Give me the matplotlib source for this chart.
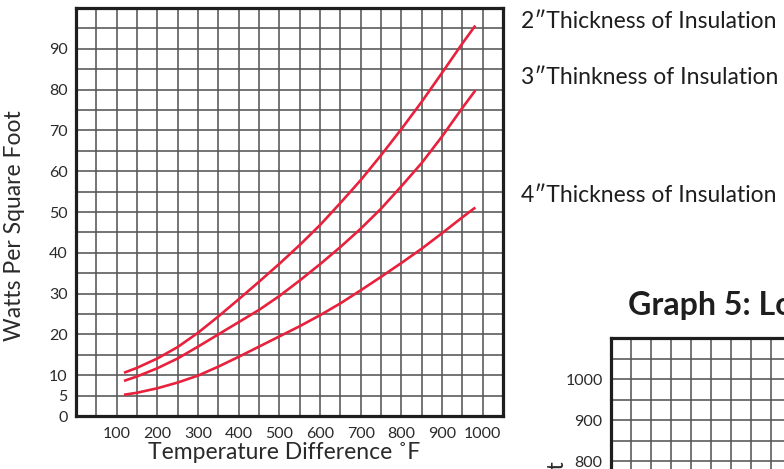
import matplotlib
matplotlib.use("Agg")
import matplotlib.pyplot as plt
import numpy as np

FONT = ['Lato', 'DejaVu Sans']
plt.rcParams['font.family'] = FONT

# ---- data ----
temp = [118, 150, 200, 250, 300, 350, 400, 450, 500, 550,
        600, 650, 700, 750, 800, 850, 900, 950, 982]
watts_2in = [10.6, 11.8, 14.1, 16.9, 20.4, 24.4, 28.6, 32.9, 37.3, 41.9,
             46.8, 52.2, 57.8, 63.9, 70.3, 77.0, 84.1, 91.3, 95.7]
watts_3in = [8.6, 9.7, 11.7, 14.1, 17.0, 20.0, 23.0, 26.0, 29.4, 33.2,
             37.2, 41.4, 45.9, 50.8, 56.3, 62.0, 68.5, 75.5, 79.8]
watts_4in = [5.2, 5.7, 6.8, 8.2, 9.9, 12.1, 14.5, 17.0, 19.5, 22.0,
             24.7, 27.6, 30.8, 34.1, 37.5, 41.0, 44.8, 48.7, 51.1]
series_labels = ['2\u2033Thickness of Insulation',
                 '3\u2033Thinkness of Insulation',
                 '4\u2033Thickness of Insulation']
x_ticks = [100, 200, 300, 400, 500, 600, 700, 800, 900, 1000]
y_ticks = [0, 5, 10, 20, 30, 40, 50, 60, 70, 80, 90]
y_ticks_g5 = [800, 900, 1000]

W, H = 784, 469
fig = plt.figure(figsize=(W / 100, H / 100), dpi=100)

GRID_C = '#555555'
RED = '#e8213d'
SPINE_C = '#1e1e1e'
TXT_C = '#2a2a2a'


def style_axes(ax):
    ax.set_facecolor('white')
    for s in ax.spines.values():
        s.set_linewidth(2.3)
        s.set_color(SPINE_C)
    ax.tick_params(which='both', length=0, labelsize=11.5, colors=TXT_C)
    ax.grid(True, which='both', color=GRID_C, linewidth=1.15)
    ax.set_axisbelow(True)


# ---- main chart ----
ax = fig.add_axes([76 / W, 1 - 416 / H, 427 / W, 408 / H])
ax.set_xlim(0, 1050)
ax.set_ylim(0, 100)
ax.set_xticks(np.arange(50, 1050, 50), minor=True)
ax.set_yticks(np.arange(5, 100, 5), minor=True)
ax.set_xticks(x_ticks)
ax.set_yticks(y_ticks)
ax.set_xticklabels([str(v) for v in x_ticks])
ax.set_yticklabels([str(v) for v in y_ticks])
style_axes(ax)
ax.tick_params(axis='x', pad=8)
ax.tick_params(axis='y', pad=6)

for ys in (watts_2in, watts_3in, watts_4in):
    ax.plot(temp, ys, color=RED, linewidth=1.9, solid_capstyle='butt', zorder=3)

ax.set_xlabel('Temperature Difference \u02daF', fontsize=16.5, color=TXT_C)
ax.xaxis.set_label_coords((284 - 76) / 427, -(452 - 416) / 408)
ax.xaxis.label.set_va('center')
fig.text(15 / W, 1 - 226 / H, 'Watts Per Square Foot', rotation=90,
         fontsize=16.5, color=TXT_C, ha='center', va='center', family=FONT)

# ---- series labels on the right ----
for lab, ypx in zip(series_labels, [22, 77, 195]):
    fig.text(521 / W, 1 - ypx / H, lab, fontsize=16.5, color='#1e1e1e',
             ha='left', va='center', family=FONT)

# ---- next graph (cut off at the figure edge) ----
fig.text(628 / W, 1 - 305 / H, 'Graph 5: Lo', fontsize=23, fontweight='bold',
         color='#1e1e1e', ha='left', va='center', family=FONT)

ax2 = fig.add_axes([611 / W, 1 - (338 + 451) / H, 420 / W, 451 / H])
ax2.set_xlim(0, 1050)
ax2.set_ylim(0, 1100)
ax2.set_xticks(np.arange(50, 1050, 50), minor=True)
ax2.set_yticks(np.arange(50, 1100, 50), minor=True)
ax2.set_xticks([])
ax2.set_yticks(y_ticks_g5)
ax2.set_yticklabels([str(v) for v in y_ticks_g5])
style_axes(ax2)
ax2.tick_params(axis='y', pad=6)
fig.text(557 / W, 1 - 461 / H, 'Watts Per Square Foot', rotation=90,
         fontsize=16.5, color=TXT_C, ha='center', va='top', family=FONT)

fig.savefig('out.png', dpi=100)
